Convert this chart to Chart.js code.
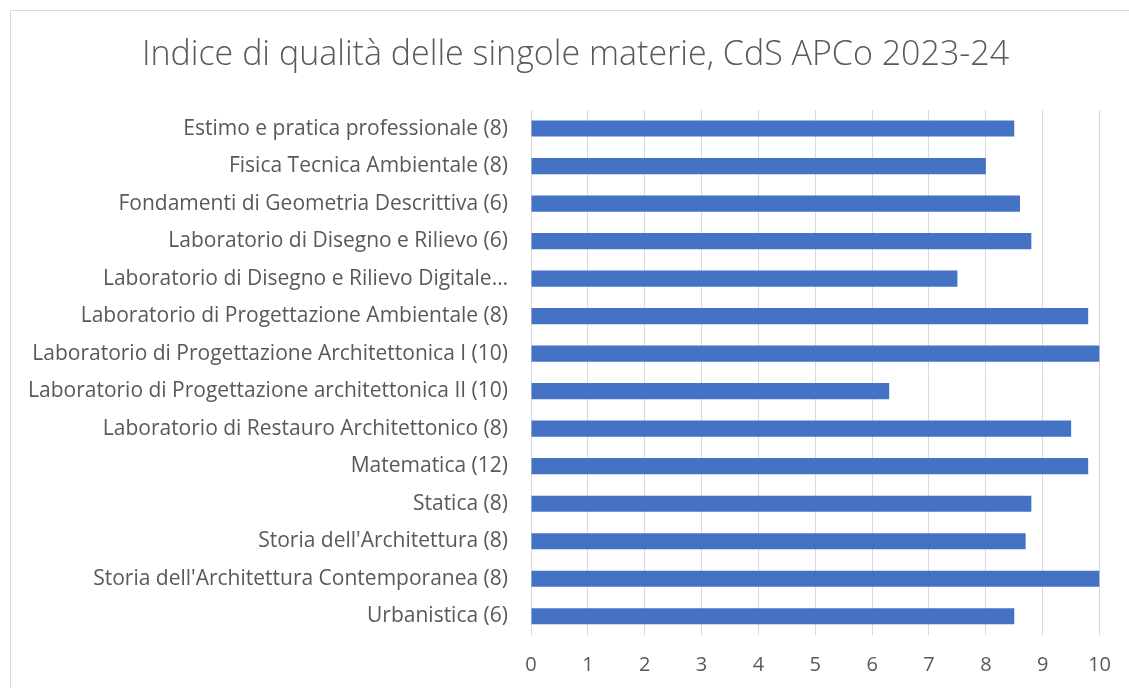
<!DOCTYPE html>
<html>
<head>
<meta charset="utf-8">
<script src="https://cdn.jsdelivr.net/npm/chart.js@4"></script>
<style>
  html, body { margin: 0; padding: 0; background: #fff; }
  #wrap { width: 1129px; height: 688px; position: relative; }
</style>
</head>
<body>
<div id="wrap"><canvas id="qualityChart" width="1129" height="688"></canvas></div>
<script>
// categories (top to bottom)
const materie = [
    'Estimo e pratica professionale (8)',
    'Fisica Tecnica Ambientale (8)',
    'Fondamenti di Geometria Descrittiva (6)',
    'Laboratorio di Disegno e Rilievo (6)',
    'Laboratorio di Disegno e Rilievo Digitale…',
    'Laboratorio di Progettazione Ambientale (8)',
    'Laboratorio di Progettazione Architettonica I (10)',
    'Laboratorio di Progettazione architettonica II (10)',
    'Laboratorio di Restauro Architettonico (8)',
    'Matematica (12)',
    'Statica (8)',
    "Storia dell'Architettura (8)",
    "Storia dell'Architettura Contemporanea (8)",
    'Urbanistica (6)'
];
const indice = [8.5, 8.0, 8.6, 8.8, 7.5, 9.8, 10, 6.3, 9.5, 9.8, 8.8, 8.7, 10, 8.5];
const titolo = 'Indice di qualità delle singole materie, CdS APCo 2023-24';

const textColor = '#595959';
const fontFamily = "'Open Sans', 'Liberation Sans', sans-serif";

// light frame like the office chart border, and title centred on the whole frame
const framePlugin = {
    id: 'frame',
    afterLayout(chart) {
        if (chart.titleBlock) chart.titleBlock.left = 50;
    },
    beforeDraw(chart) {
        const c = chart.ctx;
        c.save();
        c.strokeStyle = '#d9d9d9';
        c.lineWidth = 1;
        c.strokeRect(10.5, 10.5, 1200, 800);
        c.restore();
    }
};

const ctx = document.getElementById('qualityChart').getContext('2d');
new Chart(ctx, {
    type: 'bar',
    data: {
        labels: materie,
        datasets: [{
            data: indice,
            backgroundColor: '#4472C4',
            borderWidth: 0,
            barPercentage: 0.43,
            categoryPercentage: 1
        }]
    },
    options: {
        indexAxis: 'y',
        responsive: false,
        animation: false,
        layout: { padding: { top: 20, right: 28, bottom: 11, left: 0 } },
        plugins: {
            legend: { display: false },
            tooltip: { enabled: false },
            title: {
                display: true,
                text: titolo,
                color: textColor,
                font: { family: fontFamily, size: 34, weight: '300' },
                padding: { top: 15, bottom: 34 }
            }
        },
        scales: {
            x: {
                min: 0,
                max: 10,
                ticks: { stepSize: 1, color: textColor, font: { family: fontFamily, size: 20 }, padding: 18 },
                grid: { color: '#d9d9d9', lineWidth: 1, drawTicks: false },
                border: { display: false },
                afterFit(scale) { scale.height = 42; }
            },
            y: {
                ticks: { color: textColor, font: { family: fontFamily, size: 21 }, padding: 15, autoSkip: false },
                grid: { display: false },
                border: { display: false },
                afterFit(scale) { scale.width = 531; }
            }
        }
    },
    plugins: [framePlugin]
});
</script>
</body>
</html>
